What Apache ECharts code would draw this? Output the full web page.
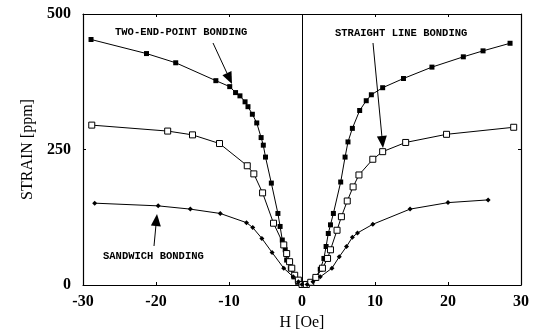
<!DOCTYPE html>
<html lang="en">
<head>
    <meta charset="UTF-8">
    <title>Strain vs H</title>
    <script src="https://cdn.jsdelivr.net/npm/echarts@6/dist/echarts.min.js"></script>
</head>
<body style="margin:0;background:#fff;">
<div id="main" style="width: 540px;height:336px;"></div>
<script>
    // H [Oe] / strain [ppm] pairs
    var twoEndPoint = [
        [-28.9, 453], [-21.3, 427], [-17.3, 410], [-11.8, 377], [-9.9, 366], [-9.1, 355],
        [-8.5, 349], [-7.8, 338], [-7.4, 329], [-6.8, 315], [-6.2, 299], [-5.6, 272],
        [-5.3, 258], [-5.0, 236], [-4.2, 188], [-3.3, 132], [-3.0, 108], [-2.7, 83],
        [-2.3, 65], [-2.1, 46], [-1.6, 30], [-1.1, 15], [-0.6, 5], [0, 0],
        [0.5, 1], [1.1, 3], [1.8, 12], [2.5, 29], [3.0, 49], [3.3, 71], [3.6, 95],
        [3.9, 111], [4.3, 132], [5.3, 190], [5.9, 236], [6.3, 264], [6.9, 289],
        [7.9, 322], [8.8, 340], [9.5, 351], [11.05, 364], [13.9, 381], [17.8, 402],
        [22.1, 421], [24.8, 432], [28.5, 446]
    ];
    var straightLine = [
        [-28.8, 295], [-18.4, 284], [-15.0, 277], [-11.3, 261], [-7.5, 220], [-6.6, 205],
        [-5.4, 170], [-3.9, 114], [-2.5, 74], [-2.1, 58], [-1.7, 43], [-1.4, 31],
        [-1.0, 18], [-0.5, 9], [0, 1],
        [0.6, 1], [1.2, 5], [1.9, 14], [2.8, 31], [3.5, 49], [3.9, 65], [4.8, 101],
        [5.4, 126], [6.2, 155], [7.0, 181], [7.8, 203], [9.7, 232], [11.05, 246],
        [14.2, 263], [19.8, 278], [29.0, 291]
    ];
    var sandwich = [
        [-28.4, 151], [-19.7, 146], [-15.3, 140], [-11.2, 132], [-7.6, 115], [-6.75, 106],
        [-5.5, 86], [-4.1, 60], [-2.5, 31], [-1.2, 15], [-0.5, 6], [0, 1],
        [0.7, 1], [1.5, 6], [2.5, 15], [4.1, 31], [5.1, 52], [6.1, 71], [6.9, 88],
        [7.6, 96], [9.7, 112], [14.8, 140], [20.0, 152], [25.5, 157]
    ];

    var myChart = echarts.init(document.getElementById('main'));

    var serif = 'Liberation Serif';
    var mono = 'Liberation Mono';

    // small helper for the annotation arrows
    function arrow(x1, y1, x2, y2) {
        var ang = Math.atan2(y2 - y1, x2 - x1);
        var len = 12, half = 5;
        var bx = x2 - len * Math.cos(ang), by = y2 - len * Math.sin(ang);
        var px = -Math.sin(ang) * half, py = Math.cos(ang) * half;
        return [
            {type: 'line', shape: {x1: x1, y1: y1, x2: bx, y2: by}, style: {stroke: '#000', lineWidth: 1}},
            {type: 'polygon', shape: {points: [[x2, y2], [bx + px, by + py], [bx - px, by - py]]}, style: {fill: '#000'}}
        ];
    }

    var texts = [
        {type: 'text', left: 115, top: 27, style: {text: 'TWO-END-POINT BONDING', font: 'bold 10.5px ' + mono, fill: '#000'}},
        {type: 'text', left: 335, top: 28, style: {text: 'STRAIGHT LINE BONDING', font: 'bold 10.5px ' + mono, fill: '#000'}},
        {type: 'text', left: 103, top: 251, style: {text: 'SANDWICH BONDING', font: 'bold 10.5px ' + mono, fill: '#000'}}
    ];

    var frameLine = {onZero: false, lineStyle: {color: '#000', width: 1.2}};
    var inTicks = {show: true, inside: true, length: 3, lineStyle: {color: '#000'}};

    var option = {
        animation: false,
        textStyle: {fontFamily: serif},
        grid: {left: 83, right: 19, top: 14, bottom: 51},
        xAxis: [{
            type: 'value', min: -30, max: 30, interval: 10,
            name: 'H [Oe]', nameLocation: 'middle', nameGap: 28,
            nameTextStyle: {fontSize: 16, color: '#000', fontFamily: serif},
            axisLine: frameLine, axisTick: inTicks,
            axisLabel: {fontSize: 16, fontWeight: 'bold', color: '#000', margin: 9,
                formatter: function (v) { return v < 0 ? '-' + (-v) : '' + v; }},
            splitLine: {show: false}
        }, {
            type: 'value', min: -30, max: 30, interval: 10, position: 'top',
            axisLine: frameLine, axisTick: inTicks,
            axisLabel: {show: false}, splitLine: {show: false}
        }],
        yAxis: [{
            type: 'value', min: 0, max: 500, interval: 250,
            name: 'STRAIN [ppm]', nameLocation: 'middle', nameGap: 47, nameRotate: 90,
            nameTextStyle: {fontSize: 16, color: '#000', fontFamily: serif},
            axisLine: {show: true, onZero: false, lineStyle: {color: '#000', width: 1.2}},
            axisTick: inTicks,
            axisLabel: {fontSize: 16, fontWeight: 'bold', color: '#000', margin: 12},
            splitLine: {show: false}
        }, {
            type: 'value', min: 0, max: 500, interval: 250, position: 'right',
            axisLine: {show: true, onZero: false, lineStyle: {color: '#000', width: 1.2}},
            axisTick: inTicks,
            axisLabel: {show: false}, splitLine: {show: false}
        }],
        graphic: texts
            .concat(arrow(213, 43, 232, 84))
            .concat(arrow(373, 43, 383, 148))
            .concat(arrow(154, 246, 157, 214)),
        series: [
            {
                type: 'line', data: twoEndPoint, symbol: 'rect', symbolSize: 5,
                lineStyle: {color: '#000', width: 1}, itemStyle: {color: '#000'},
                markLine: {
                    silent: true, symbol: 'none', label: {show: false},
                    lineStyle: {color: '#000', width: 1, type: 'solid'},
                    data: [{xAxis: 0}]
                }
            },
            {
                type: 'line', data: straightLine, symbol: 'rect', symbolSize: 6,
                lineStyle: {color: '#000', width: 1},
                itemStyle: {color: '#fff', borderColor: '#000', borderWidth: 1}
            },
            {
                type: 'line', data: sandwich, symbol: 'diamond', symbolSize: 5,
                lineStyle: {color: '#000', width: 1}, itemStyle: {color: '#000'}
            }
        ]
    };

    myChart.setOption(option);
</script>
</body>
</html>
